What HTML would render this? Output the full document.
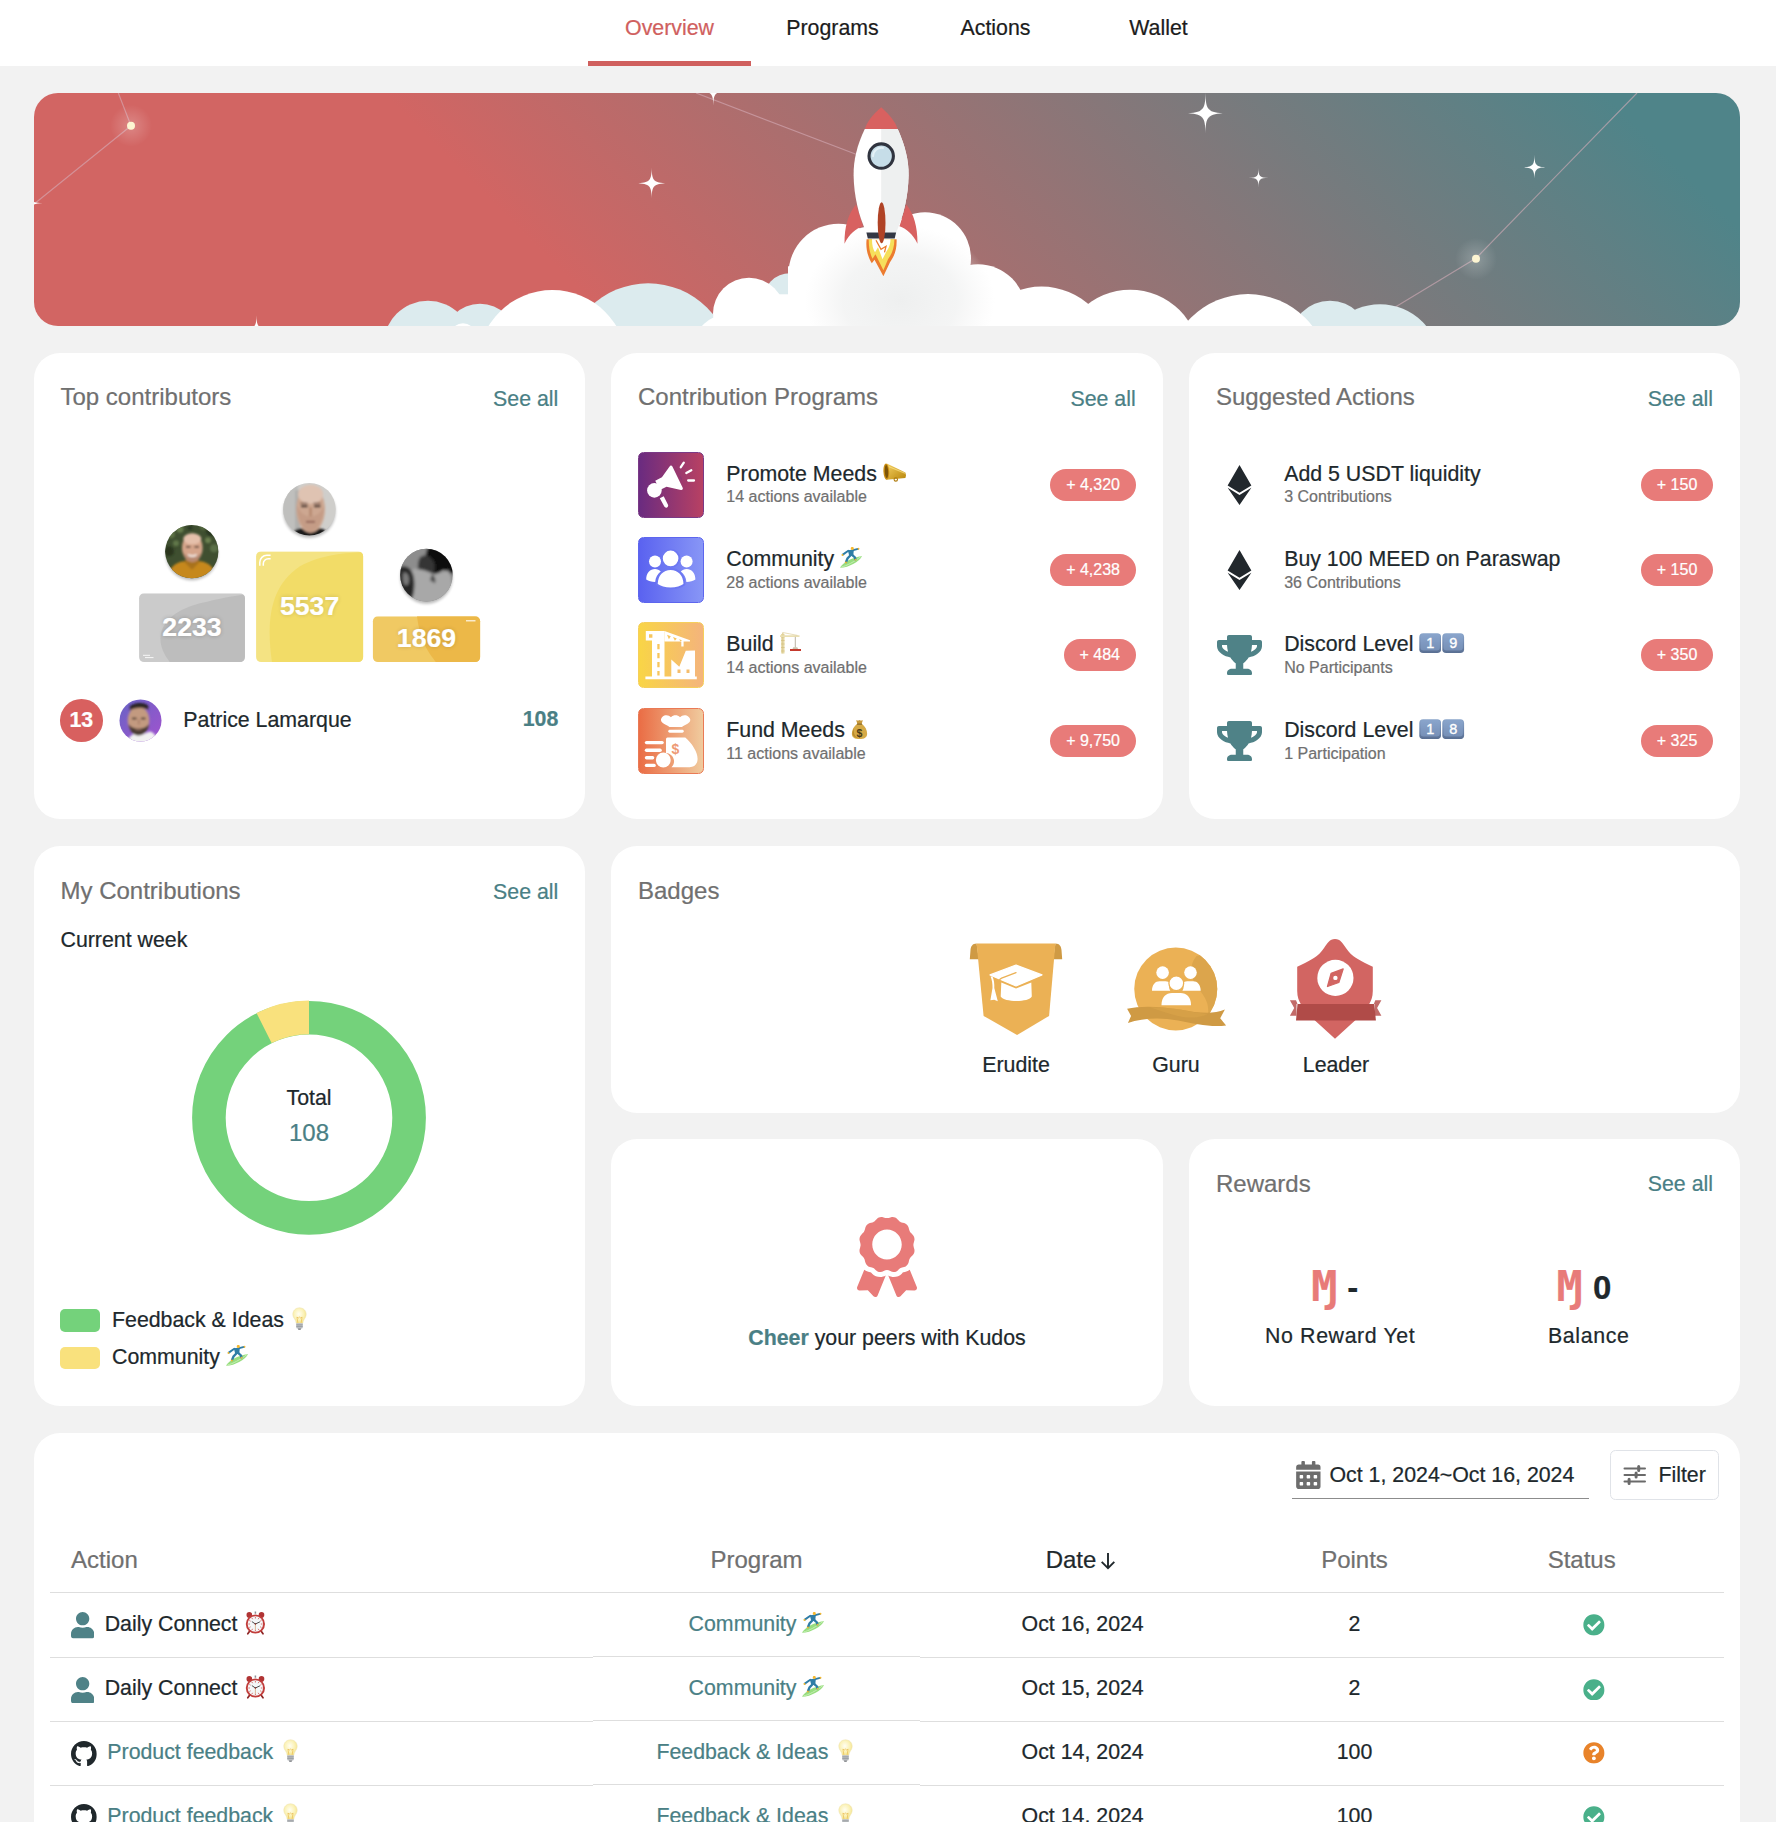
<!DOCTYPE html>
<html lang="en">
<head>
<meta charset="utf-8">
<title>Overview</title>
<style>
*{box-sizing:border-box;margin:0;padding:0}
html,body{width:1776px;height:1822px;overflow:hidden;background:#f2f2f2}
body{position:relative;-webkit-text-stroke:.22px;font-family:"Liberation Sans",Arial,Helvetica,sans-serif;font-size:21.33px;color:#20282c;line-height:1}
.abs{position:absolute}
#nav{position:absolute;left:0;top:0;width:1776px;height:66px;background:#fff}
.tab{position:absolute;top:0;height:66px;width:163px;text-align:center;font-size:21.33px;line-height:24px;padding-top:15.5px;color:#1c1c1c}
.tab.on{color:#d0605e}
.tab.on:after{content:"";position:absolute;left:0;right:0;bottom:0;height:5.33px;background:#d0605e}
#banner{position:absolute;left:34px;top:92.7px;width:1706px;height:233.3px;border-radius:24px;overflow:hidden;background:linear-gradient(45deg,#d26563 0%,#d26563 30%,#4f8489 93%)}
.card{position:absolute;background:#fff;border-radius:26px}
.ttl{position:absolute;font-size:24px;line-height:28px;color:#707070;white-space:nowrap}
.see{position:absolute;font-size:21.33px;line-height:24px;color:#4a7f85;white-space:nowrap;text-align:right}
.t{position:absolute;white-space:nowrap;line-height:24px}
.sub{position:absolute;white-space:nowrap;font-size:16px;line-height:18px;color:#707070}
.pill{position:absolute;height:32px;border-radius:16px;background:#e87b79;color:#fff;font-size:16px;line-height:31px;text-align:center;white-space:nowrap}
.teal{color:#4a7f85}
.b{font-weight:bold}
.em{display:inline-block;position:relative;height:0;vertical-align:baseline}.em>svg{position:absolute;left:0}
</style>
</head>
<body>
<svg width="0" height="0" style="position:absolute">
<defs>
<linearGradient id="kc" x1="0" y1="0" x2="0" y2="1"><stop offset="0" stop-color="#8ba6cb"/><stop offset=".5" stop-color="#7089b0"/><stop offset="1" stop-color="#596f92"/></linearGradient>
<linearGradient id="mg" x1="0" y1="0" x2="1" y2="1"><stop offset="0" stop-color="#f5d061"/><stop offset="1" stop-color="#b8860b"/></linearGradient>
<radialGradient id="bulbg" cx=".45" cy=".4" r=".6"><stop offset="0" stop-color="#fffef2"/><stop offset=".6" stop-color="#fbf2b8"/><stop offset="1" stop-color="#f4e38c"/></radialGradient>
</defs>
<!-- emoji: megaphone -->
<symbol id="e-mega" viewBox="0 0 23 19">
<path d="M3.800 .400L22.300 9.400c.800 1.800.800 3.800 0 5.500L3.500 16.800z" fill="url(#mg)"/>
<path d="M5.500 3.500L22 10.200" stroke="#fbe38a" stroke-width="1.100" opacity=".7"/>
<ellipse cx="3.300" cy="8.600" rx="2.900" ry="8.200" transform="rotate(-3 3.300 8.600)" fill="#c98d13"/><ellipse cx="3.500" cy="8.600" rx="1.700" ry="6.500" transform="rotate(-3 3.500 8.600)" fill="#7d5407"/>
<circle cx="12.800" cy="16.400" r="1.700" fill="none" stroke="#b07d10" stroke-width="1.100"/>
</symbol>
<!-- emoji: surfer -->
<symbol id="e-surf" viewBox="0 0 22 21.500">
<path d="M0 20.800C2 16 12 10 22 8.900C20 14 9 20.500 0 20.800z" fill="#97dd7f"/><path d="M1.500 20c5-1 13-5.500 19.500-10.500" stroke="#c9f0b8" stroke-width=".9" fill="none"/>
<g stroke="#2f7da6" stroke-linecap="round" fill="none"><path d="M8.300 3.800L2.800 7.600" stroke-width="1.900"/><path d="M13.300 3.200L18 1.900" stroke-width="1.900"/><path d="M10.300 8.500L7.500 11.500L6 15" stroke-width="2.300"/><path d="M12.600 8.300L15 10.500L15.300 12.300" stroke-width="2.300"/></g>
<path d="M7.800 3.200L13.800 2.500L13.300 8.800L9.300 9.200z" fill="#2f7da6"/>
<circle cx="12.300" cy="1.400" r="1.500" fill="#f5b82e"/><circle cx="2.500" cy="7.900" r="1" fill="#f5b82e"/><circle cx="18.500" cy="1.700" r=".95" fill="#f5b82e"/><circle cx="5.900" cy="15.600" r="1" fill="#f5b82e"/><circle cx="15.500" cy="12.700" r=".9" fill="#f5b82e"/>
</symbol>
<!-- emoji: crane -->
<symbol id="e-crane" viewBox="2.500 0 21.500 22">
<path d="M3.500 2h3.600v19.500H3.500z" fill="#eadfb2"/><path d="M3.500 5h3.600M3.500 8.500h3.600M3.500 12h3.600M3.500 15.500h3.600M3.500 19h3.600M5.300 2v19.500" stroke="#d2bf7e" stroke-width=".7"/>
<path d="M2.500 3.300h19.500v1.600H2.500z" fill="#eadfb2"/><path d="M5.300 0l1.500 3.300H3.800z" fill="#e2d29a"/><path d="M5.300 .5L20 3.400" stroke="#d8c88e" stroke-width=".6"/>
<path d="M17.800 4.900v10.600" stroke="#a8a08a" stroke-width=".8"/><path d="M15.800 15.300h4l.8 1.700h-5.600z" fill="#c9c2ad"/><path d="M12.500 17h11v2h-11z" fill="#c4392d"/>
</symbol>
<!-- emoji: money bag -->
<symbol id="e-bag" viewBox="0 0 20 24">
<path d="M6 1c1.300.800 2.500.800 4 0 1.500.800 2.700.800 4 0l-1.600 5H7.600z" fill="#c89a3c"/>
<path d="M7.300 5.600h5.400c4 3 6.300 7.500 6.300 11.600 0 4.300-3.400 6.300-9 6.300s-9-2-9-6.300c0-4.100 2.300-8.600 6.300-11.600z" fill="#d5a945"/>
<path d="M3.500 11c-1.500 2.500-2 5-1.500 7.500 1 2.500 3.500 3.500 6 3.800-3-1.500-5.500-5-4.500-11.300z" fill="#b98a2b"/>
<path d="M7 5.300h6v1.500H7z" fill="#8a6a2a"/>
<text x="10" y="20.800" font-family="Liberation Sans,Arial,sans-serif" font-weight="bold" font-size="12.500" text-anchor="middle" fill="#4a3a14">$</text>
</symbol>
<!-- emoji: bulb -->
<symbol id="e-bulb" viewBox="0 0 16 24">
<path d="M8 .8c4 0 7 3 7 6.800 0 2.700-1.500 4.200-2.500 6-.600 1.100-.800 2-.900 3.400H4.400c-.100-1.400-.300-2.300-.900-3.400-1-1.800-2.500-3.300-2.500-6C1 3.800 4 .8 8 .8z" fill="url(#bulbg)" stroke="#ece2b0" stroke-width=".5"/>
<path d="M6.300 16.500l-1-6 1.400 1 1.300-1 1.300 1 1.400-1-1 6" fill="none" stroke="#e8b84a" stroke-width=".7"/>
<path d="M4.600 17h6.800v4.200c0 .800-.600 1.300-1.300 1.300H5.900c-.700 0-1.300-.500-1.300-1.300z" fill="#b9bcc0"/><path d="M4.600 18.600h6.800M4.600 20.300h6.800" stroke="#8f9398" stroke-width=".7"/><path d="M6.300 22.500h3.400l-.500 1.200H6.800z" fill="#6d7075"/>
</symbol>
<!-- emoji: alarm clock -->
<symbol id="e-clock" viewBox="0 0 22 24">
<path d="M5 20.500l-1.600 2.300M17 20.500l1.600 2.300" stroke="#8e2626" stroke-width="1.700" stroke-linecap="round"/>
<circle cx="4.900" cy="3.900" r="2.800" fill="#b03434"/><circle cx="17.100" cy="3.900" r="2.800" fill="#b03434"/>
<path d="M11 .500v2.300" stroke="#8b8f94" stroke-width="1.500"/>
<circle cx="11" cy="13" r="9.600" fill="#c13d3b"/><circle cx="11" cy="13" r="7.700" fill="#f4f7f8"/>
<g stroke="#d0504c" stroke-width=".8"><path d="M11 6v1.500M11 18.500v1.500M4 13h1.500M16.500 13h1.500M7.500 7l.700 1.200M14.500 7l-.700 1.200M7.500 19l.700-1.200M14.500 19l-.700-1.200M5 9.500l1.200.700M17 9.500l-1.200.700M5 16.500l1.200-.700M17 16.500l-1.200-.700"/></g>
<path d="M11 13L7.800 10.800M11 13l4.200-2" stroke="#3a3a3a" stroke-width=".9" stroke-linecap="round"/><path d="M11 13v5.500" stroke="#d8b08a" stroke-width=".9"/><circle cx="11" cy="13" r=".8" fill="#8e2626"/>
</symbol>
<!-- emoji: keycap base -->
<symbol id="e-key" viewBox="0 0 22 22">
<rect x=".5" y=".5" width="21" height="21" rx="4" fill="url(#kc)"/><rect x="1.600" y="1.300" width="18.800" height="17.500" rx="3.200" fill="#7391bb" opacity=".55"/>
</symbol>
<!-- FA icons -->
<symbol id="i-eth" viewBox="0 0 320 512"><path d="M311.900 260.800L160 353.600 8 260.800 160 0l151.900 260.800zM160 383.400L8 290.600 160 512l152-221.400-152 92.800z"/></symbol>
<symbol id="i-trophy" viewBox="0 0 576 512"><path d="M552 64H448V24c0-13.300-10.700-24-24-24H152c-13.300 0-24 10.700-24 24v40H24C10.700 64 0 74.700 0 88v56c0 35.700 22.500 72.400 61.900 100.700 31.500 22.700 69.800 37.100 110 41.700C203.300 338.500 240 360 240 360v72h-48c-35.300 0-64 20.700-64 56v12c0 6.600 5.400 12 12 12h296c6.600 0 12-5.400 12-12v-12c0-35.300-28.700-56-64-56h-48v-72s36.700-21.500 68.100-73.600c40.300-4.600 78.600-19 110-41.700 39.300-28.300 61.900-65 61.900-100.700V88c0-13.300-10.700-24-24-24zM99.300 192.800C74.900 175.200 64 155.600 64 144v-16h64.200c1 32.600 5.800 61.200 12.800 86.200-15.100-5.200-29.200-12.400-41.700-21.400zM512 144c0 16.100-17.700 36.100-35.300 48.800-12.500 9-26.700 16.200-41.800 21.400 7-25 11.800-53.600 12.800-86.200H512v16z"/></symbol>
<symbol id="i-user" viewBox="0 0 448 512"><path d="M224 256c70.700 0 128-57.300 128-128S294.700 0 224 0 96 57.300 96 128s57.300 128 128 128zm89.600 32h-16.700c-22.200 10.200-46.900 16-72.900 16s-50.600-5.800-72.900-16h-16.700C60.200 288 0 348.200 0 422.400V464c0 26.500 21.500 48 48 48h352c26.500 0 48-21.500 48-48v-41.600c0-74.200-60.200-134.400-134.400-134.400z"/></symbol>
<symbol id="i-check" viewBox="0 0 512 512"><path d="M504 256c0 136.967-111.033 248-248 248S8 392.967 8 256 119.033 8 256 8s248 111.033 248 248zM227.314 387.314l184-184c6.248-6.248 6.248-16.379 0-22.627l-22.627-22.627c-6.248-6.249-16.379-6.249-22.628 0L216 308.118l-70.059-70.059c-6.248-6.248-16.379-6.248-22.628 0l-22.627 22.627c-6.248 6.248-6.248 16.379 0 22.627l104 104c6.249 6.249 16.379 6.249 22.628.001z"/></symbol>
<symbol id="i-quest" viewBox="0 0 512 512"><path d="M504 256c0 136.997-111.043 248-248 248S8 392.997 8 256C8 119.083 119.043 8 256 8s248 111.083 248 248zM262.655 90c-54.497 0-89.255 22.957-116.549 63.758-3.536 5.286-2.353 12.415 2.715 16.258l34.699 26.310c5.205 3.947 12.621 3.008 16.665-2.122 17.864-22.658 30.113-35.797 57.303-35.797 20.429 0 45.698 13.148 45.698 32.958 0 14.976-12.363 22.667-32.534 33.976C247.128 238.528 216 254.941 216 296v4c0 6.627 5.373 12 12 12h56c6.627 0 12-5.373 12-12v-1.333c0-28.462 83.186-29.647 83.186-106.667 0-58.002-60.165-102-116.531-102zM256 338c-25.365 0-46 20.635-46 46 0 25.364 20.635 46 46 46s46-20.636 46-46c0-25.365-20.635-46-46-46z"/></symbol>
<symbol id="i-cal" viewBox="0 0 448 512"><path d="M0 464c0 26.500 21.500 48 48 48h352c26.500 0 48-21.500 48-48V192H0v272zm320-196c0-6.600 5.400-12 12-12h40c6.600 0 12 5.400 12 12v40c0 6.600-5.400 12-12 12h-40c-6.600 0-12-5.400-12-12v-40zm0 128c0-6.600 5.400-12 12-12h40c6.600 0 12 5.400 12 12v40c0 6.600-5.400 12-12 12h-40c-6.600 0-12-5.400-12-12v-40zM192 268c0-6.600 5.400-12 12-12h40c6.600 0 12 5.400 12 12v40c0 6.600-5.400 12-12 12h-40c-6.600 0-12-5.400-12-12v-40zm0 128c0-6.600 5.400-12 12-12h40c6.600 0 12 5.400 12 12v40c0 6.600-5.400 12-12 12h-40c-6.600 0-12-5.400-12-12v-40zM64 268c0-6.600 5.400-12 12-12h40c6.600 0 12 5.400 12 12v40c0 6.600-5.400 12-12 12H76c-6.600 0-12-5.400-12-12v-40zm0 128c0-6.600 5.400-12 12-12h40c6.600 0 12 5.400 12 12v40c0 6.600-5.400 12-12 12H76c-6.600 0-12-5.400-12-12v-40zM400 64h-48V16c0-8.800-7.200-16-16-16h-32c-8.800 0-16 7.200-16 16v48H160V16c0-8.800-7.200-16-16-16h-32c-8.800 0-16 7.200-16 16v48H48C21.500 64 0 85.500 0 112v48h448v-48c0-26.500-21.500-48-48-48z"/></symbol>
<symbol id="i-gh" viewBox="0 -1408 1536 1500"><path transform="scale(1,-1)" d="M768 1408C344 1408 0 1064 0 640C0 301 220 13 525 -89C564 -96 578 -72 578 -52C578 -33 577 27 577 91C577 91 363 45 318 182C318 182 283 271 233 294C233 294 163 342 238 341C238 341 314 335 356 262C423 144 535 178 579 198C586 247 606 281 628 301C457 320 278 386 278 680C278 764 308 832 357 886C349 906 323 984 365 1090C429 1110 576 1011 576 1011C637 1028 703 1037 768 1037C833 1037 899 1028 960 1011C960 1011 1107 1110 1171 1090C1213 984 1187 906 1179 886C1228 832 1258 764 1258 680C1258 385 1078 320 907 301C935 277 959 231 959 159C959 56 958 -27 958 -52C958 -72 972 -96 1011 -89C1316 13 1536 301 1536 640C1536 1064 1192 1408 768 1408ZM291 305C289 301 283 300 278 303C272 306 269 311 271 315C273 318 278 319 284 317C290 314 293 309 291 305ZM322 271C318 267 311 269 306 274C301 280 300 287 304 290C308 294 315 292 320 287C325 281 326 274 322 271ZM352 226C348 223 340 226 335 233C330 240 330 248 335 251C340 255 348 252 352 245C357 238 357 230 352 226ZM394 184C390 179 381 180 374 187C367 193 365 202 370 206C374 211 383 210 390 203C396 197 398 188 394 184ZM451 159C449 153 440 150 432 153C423 155 417 162 419 168C421 174 430 177 438 175C447 172 453 165 451 159ZM514 154C514 148 507 143 498 143C488 142 481 147 481 154C481 160 488 165 497 165C506 166 514 161 514 154ZM572 164C573 158 567 152 558 150C549 148 541 152 540 158C539 165 545 171 554 173C563 174 571 170 572 164Z"/></symbol>
</svg>
<!-- NAV -->
<div id="nav">
  <div class="tab on" style="left:588px">Overview</div>
  <div class="tab" style="left:751px">Programs</div>
  <div class="tab" style="left:914px">Actions</div>
  <div class="tab" style="left:1077px">Wallet</div>
</div>

<!-- BANNER -->
<div id="banner"><svg width="1706" height="233.3" viewBox="34 92.7 1706 233.3" style="position:absolute;left:0;top:0">
<defs>
<radialGradient id="glow"><stop offset="0" stop-color="#fff" stop-opacity=".22"/><stop offset=".55" stop-color="#fff" stop-opacity=".1"/><stop offset="1" stop-color="#fff" stop-opacity="0"/></radialGradient>
<radialGradient id="sglow"><stop offset="0" stop-color="#fff" stop-opacity=".9"/><stop offset="1" stop-color="#fff" stop-opacity="0"/></radialGradient>
<radialGradient id="cshade" cx=".5" cy=".5" r=".5"><stop offset="0" stop-color="#eeefef"/><stop offset=".6" stop-color="#f1f2f2" stop-opacity=".8"/><stop offset="1" stop-color="#f4f4f4" stop-opacity="0"/></radialGradient>
<path id="star" d="M0-16C.25-2.600 1.400-.350 16 0C1.400 .350 .25 2.600 0 16C-.25 2.600-1.400 .350-16 0C-1.400-.350-.25-2.600 0-16Z"/>
</defs>
<!-- constellation lines -->
<g stroke="#d6adb9" stroke-width="1.200" fill="none" opacity=".6">
<path d="M118.3 92.7L131 125.4L35 203"/>
<path d="M696 92.7L856 154"/>
<path d="M1637 92.7L1476 258L1390 310"/>
</g>
<!-- glow dots -->
<circle cx="131" cy="125.4" r="21" fill="url(#glow)"/><circle cx="131" cy="125.4" r="4" fill="#fdf5d2"/>
<circle cx="1476" cy="258.5" r="21" fill="url(#glow)"/><circle cx="1476" cy="258.5" r="4" fill="#fdf5d2"/>
<!-- stars -->
<g fill="#fff">
<use href="#star" transform="translate(651.7 183)"/><circle cx="651.7" cy="183" r="5" fill="url(#sglow)"/>
<use href="#star" transform="translate(1205.5 113) scale(1.3)"/><circle cx="1205.5" cy="113" r="6.5" fill="url(#sglow)"/>
<use href="#star" transform="translate(1258.5 177.5) scale(.62)"/><circle cx="1258.5" cy="177.5" r="3" fill="url(#sglow)"/>
<use href="#star" transform="translate(1534.5 167) scale(.8)"/><circle cx="1534.5" cy="167" r="4" fill="url(#sglow)"/>
<use href="#star" transform="translate(713.3 91) scale(.92)"/>
<use href="#star" transform="translate(256.5 328.5) scale(.85)"/>
<use href="#star" transform="translate(30 203) scale(.8)"/>
</g>
<!-- light blue clouds -->
<g fill="#dcebee">
<circle cx="428" cy="345" r="44.5"/><circle cx="480" cy="340" r="36.5"/>
<circle cx="648.2" cy="366" r="83"/>
<circle cx="790" cy="300" r="27"/>
<circle cx="1330" cy="340.5" r="40"/><circle cx="1380" cy="364" r="60"/>
</g>
<!-- white clouds -->
<g fill="#fff">
<circle cx="552.4" cy="364.4" r="74.7"/>
<circle cx="463" cy="336" r="13"/>
<circle cx="725" cy="345" r="30"/>
<circle cx="749" cy="313.5" r="36"/><rect x="755" y="294" width="45" height="34"/>
<circle cx="838.5" cy="273.5" r="50"/>
<circle cx="925" cy="258" r="46"/>
<rect x="788" y="266" width="182" height="66"/>
<ellipse cx="881" cy="270" rx="60" ry="45"/>
<circle cx="978" cy="312" r="48"/>
<circle cx="1041.5" cy="357.5" r="71.2"/>
<circle cx="1130.2" cy="359.1" r="69.7"/>
<circle cx="1248" cy="374.6" r="80.8"/>
</g>
<ellipse cx="900" cy="300" rx="95" ry="75" fill="url(#cshade)"/>
<!-- rocket -->
<g>
<path d="M856 204.3C848 214 844.5 226 844.5 243.4C849 234 856 228 863 226Z" fill="#d86160"/>
<path d="M906.3 204.3C914 214 917.5 226 917.5 243.4C913 234 906 228 899.5 226Z" fill="#d86160"/>
<path d="M881.2 107C872 115 867 122 864.8 128.7L897.7 128.7C895.5 122 890 115 881.2 107Z" fill="#d86160"/>
<path d="M864.8 128.7C857 145 853.4 160 853.6 175C854 196 858.5 215 866.4 232.4L896.1 232.4C903.7 215 908.2 196 908.6 175C908.8 160 905 145 897.7 128.7Z" fill="#fff"/>
<path d="M897.7 128.7C905 145 908.8 160 908.6 175C908.2 196 903.7 215 896.1 232.4L881.2 232.4L881.2 128.7Z" fill="#eef0f0"/>
<circle cx="881.2" cy="155.8" r="12.2" fill="#c6dde8" stroke="#30343f" stroke-width="3.1"/>
<path d="M873 156A8.5 8.5 0 0 1 883 147.6" stroke="#e3f0f6" stroke-width="2" fill="none" stroke-linecap="round"/>
<!-- flames -->
<path d="M866.6 239C865.5 248 868 257 871.8 263L874.5 259.5L883.4 276L890 262C894 256 897 250 896.6 239Z" fill="#ec7c2f"/>
<path d="M868.8 239C868.5 247 870 253 872.5 258.5L875.5 254L883.4 270L888 259C891.5 254 894.5 248 894.4 239Z" fill="#f6df5b"/>
<path d="M872 239C872 245 873 249 875 252L878 247L882.5 259L886 252C888 249 890.5 245 890.5 239Z" fill="#fff"/>
<path d="M876 240L881 249L886 246L884.5 252" stroke="#ec7c2f" stroke-width="1.3" fill="none"/>
<path d="M866.4 232.2H896.1L894.7 238.2H867.8Z" fill="#343844"/>
<ellipse cx="881.6" cy="222.5" rx="3.9" ry="20.5" fill="#b04326"/>
</g>
</svg>
</div>

<!-- ROW 1 -->
<div class="card" id="c-top" style="left:34px;top:352.7px;width:551.3px;height:466.3px">
  <div class="ttl" style="left:26.5px;top:30.5px">Top contributors</div>
  <div class="see" style="right:27px;top:34px">See all</div>
  <!--TOP_START--><svg class="abs" style="left:95px;top:110px" width="370" height="210" viewBox="129 462.7 370 210">
<defs>
<clipPath id="cg"><rect x="139.1" y="593" width="105.8" height="68.8" rx="5"/></clipPath>
<clipPath id="cy"><rect x="256.1" y="551.1" width="107" height="110.7" rx="5"/></clipPath>
<clipPath id="co"><rect x="372.9" y="616" width="107.2" height="45.8" rx="5"/></clipPath>
<clipPath id="a1"><circle cx="309.4" cy="508.9" r="26.3"/></clipPath>
<clipPath id="a2"><circle cx="191.8" cy="551.3" r="26.6"/></clipPath>
<clipPath id="a3"><circle cx="426.4" cy="574.8" r="26.3"/></clipPath>
<filter id="bl" x="-20%" y="-20%" width="140%" height="140%"><feGaussianBlur stdDeviation="1.1"/></filter>
<filter id="bl2" x="-20%" y="-20%" width="140%" height="140%"><feGaussianBlur stdDeviation="1.6"/></filter>
<filter id="sh" x="-30%" y="-30%" width="160%" height="160%"><feGaussianBlur stdDeviation="1.6"/></filter>
</defs>
<!-- podium blocks -->
<g clip-path="url(#cg)"><rect x="139" y="593" width="106" height="69" fill="#cbcbcb"/>
<path d="M170 662C152 640 158 614 200 603C220 598 236 595 246 594V662Z" fill="#bdbdbd"/>
<path d="M143 655h7M145 657.3h8.5" stroke="#fff" stroke-width="1" opacity=".85"/></g>
<g clip-path="url(#cy)"><rect x="256" y="551" width="108" height="111" fill="#f4e383"/>
<path d="M272 662C266 620 270 586 300 566C322 554 346 552.5 364 552V662Z" fill="#f2dc67"/>
<path d="M259.8 565.5v-3.5a7 7 0 0 1 7-7h3.8M263.3 565.5v-2a5 5 0 0 1 5-5h2.3" stroke="#fff" stroke-width="1.5" fill="none"/></g>
<g clip-path="url(#co)"><rect x="372" y="616" width="109" height="46" fill="#f0c963"/>
<path d="M417 616C420 640 428 652 436 662H481V616Z" fill="#ecb848"/>
<path d="M466 620.5h9.5" stroke="#fff" stroke-width="1.2" opacity=".9"/></g>
<!-- avatar shadows -->
<ellipse cx="309.4" cy="511.5" rx="26" ry="26" fill="#000" opacity=".28" filter="url(#sh)"/>
<ellipse cx="191.8" cy="554" rx="26" ry="26" fill="#000" opacity=".28" filter="url(#sh)"/>
<ellipse cx="426.4" cy="577.4" rx="26" ry="26" fill="#000" opacity=".28" filter="url(#sh)"/>
<!-- avatar 1 -->
<g clip-path="url(#a1)"><rect x="282" y="481" width="56" height="57" fill="#cfcecb"/>
<g filter="url(#bl)"><path d="M282 481h16v57h-16z" fill="#bfbfbd"/><path d="M295 490h5v40h-5z" fill="#b0b0ae"/>
<path d="M290 538c2-7 6-9.500 11-10l9 2 9-2c5 .5 9 3 11 10z" fill="#1b1b1d"/>
<ellipse cx="310.600" cy="509" rx="14.300" ry="23.500" fill="#cda791"/><ellipse cx="310.600" cy="494" rx="12.500" ry="9.500" fill="#dfc3b2"/>
<path d="M297 505c0 12 5 24 13.600 27.500 8.600-3.500 13.600-15.500 13.600-27.500-3 8-8 11-13.600 11s-10.600-3-13.600-11z" fill="#c59c86"/>
<path d="M301 505.800h6.500M314 505.800h6.500" stroke="#3f2f29" stroke-width="2.400"/><path d="M300.500 503h7M313.500 503h7" stroke="#6b5046" stroke-width="1.200"/>
<path d="M310.600 507v9" stroke="#b5886f" stroke-width="2.500"/><path d="M306 521.500h9" stroke="#8e5f55" stroke-width="1.800"/></g></g>
<!-- avatar 2 -->
<g clip-path="url(#a2)"><rect x="164" y="523" width="56" height="57" fill="#3f4f30"/>
<g filter="url(#bl)"><circle cx="171" cy="534" r="4" fill="#5d7245"/><circle cx="211" cy="531" r="5" fill="#2a3722"/><circle cx="214" cy="548" r="4" fill="#5a6f47"/><circle cx="169" cy="551" r="5" fill="#29361f"/><circle cx="180" cy="529" r="3.500" fill="#687e4e"/><circle cx="203" cy="527" r="3" fill="#51663c"/><circle cx="176" cy="543" r="3" fill="#61774a"/><circle cx="208" cy="540" r="3" fill="#6a8050"/><circle cx="190" cy="527.500" r="2.500" fill="#2c3a23"/>
<path d="M167 580c1-12 8-18 17-19l8 4 8-4c9 1 16 7 17 19z" fill="#c6881d"/><path d="M184 561.500l8 8 8-8-2-2.500h-12z" fill="#a9721a"/>
<ellipse cx="192.300" cy="547.500" rx="10.300" ry="14" fill="#d6a58b"/><ellipse cx="192.300" cy="538.500" rx="9" ry="5.500" fill="#e5c0ab"/>
<path d="M183 552c1 6 4.500 9.500 9.300 9.500s8.300-3.500 9.300-9.500c-2.500 3-5.500 4-9.300 4s-6.800-1-9.300-4z" fill="#b98a72"/>
<path d="M186 546.500h4.500M194.500 546.500h4.500" stroke="#3b2a22" stroke-width="1.600"/><path d="M188 554.500q4.300 2.800 8.600 0" stroke="#f4ece6" stroke-width="1.700" fill="none"/></g></g>
<!-- avatar 3 -->
<g clip-path="url(#a3)"><rect x="399" y="547" width="56" height="56" fill="#868686"/>
<g filter="url(#bl2)"><path d="M399 547h30v22h-30z" fill="#8d8d8d"/>
<path d="M428 547h27v26c-5 1-9-1-12-4l-6 6c-6-2-10-8-11-14s0-10 2-14z" fill="#0e0e0e"/>
<path d="M420 557c4-3 9-2 12 2s4 10 1 15-8 5-12 2-4-14-1-19z" fill="#353535"/>
<path d="M410 570c6-3 16 0 24 4l14-4c4 6 6 16 4 33h-42z" fill="#a8a8a8"/>
<path d="M399 567c4-2 9-1 12 3s4 12 3 20-3 10-6 13h-9z" fill="#262626"/><path d="M404 572c3 0 5 3 5 7s-1 6-3 6-3-3-3-6 0-7 1-7z" fill="#7a7a7a"/>
<path d="M432 574c3 2 4 6 3 9l-5-3z" fill="#4a4a4a"/></g></g>
</svg>
<div class="abs b" style="left:105.1px;top:240.3px;width:105.8px;height:68.8px;line-height:68.8px;text-align:center;color:#fff;font-size:26.67px;text-shadow:0 0 4px rgba(0,0,0,.22)">2233</div>
<div class="abs b" style="left:222.1px;top:198.4px;width:107px;height:110.7px;line-height:110.7px;text-align:center;color:#fff;font-size:26.67px;text-shadow:0 0 4px rgba(0,0,0,.16)">5537</div>
<div class="abs b" style="left:338.9px;top:263.3px;width:107.2px;height:45.8px;line-height:45.8px;text-align:center;color:#fff;font-size:26.67px;text-shadow:0 0 4px rgba(0,0,0,.16)">1869</div>
<div class="abs" style="left:26px;top:346.5px;width:42.7px;height:42.7px;border-radius:50%;background:#d8605f;color:#fff;text-align:center;line-height:42.7px;font-size:21.33px;font-weight:bold">13</div>
<svg class="abs" style="left:84px;top:345.5px" width="45" height="45" viewBox="0 0 45 45">
<defs><linearGradient id="pg" x1="0" y1="0" x2="1" y2="1"><stop offset="0" stop-color="#6664c4"/><stop offset="1" stop-color="#a452cf"/></linearGradient><clipPath id="a4"><circle cx="22.5" cy="22.5" r="21"/></clipPath>
<filter id="bl3" x="-20%" y="-20%" width="140%" height="140%"><feGaussianBlur stdDeviation=".9"/></filter></defs>
<g clip-path="url(#a4)"><rect width="45" height="45" fill="url(#pg)"/>
<g filter="url(#bl3)"><path d="M9 45c1-6 5-9 9-9.500l6 1 8-3c4 1 7 5 8 11.500z" fill="#f1f1f1"/><ellipse cx="20.500" cy="22.500" rx="10.800" ry="14" fill="#c39a80"/><path d="M11 13c2-5 6-7.500 10.500-7.500s8 2 9.500 6.500c-3-1.500-6-2-10-2s-7 1-10 3z" fill="#3a302c"/><path d="M12 9.500c3-2.500 6-3.500 9.500-3.500s6.500 1 8.500 3" stroke="#1f1b1a" stroke-width="2" fill="none"/><path d="M10.500 26c1 7 5 11.500 10 11.500s9.500-4 10.500-11.500c-2.500 3-5.500 4.500-10.500 4.500s-7.500-1.500-10-4.500z" fill="#4c3c34"/><path d="M17.500 31.500h6" stroke="#8f6a5c" stroke-width="1.300"/><path d="M14 20.500h4.500M23 20.500h4.500" stroke="#2a1c17" stroke-width="1.700"/><path d="M20.800 21.500v5" stroke="#a97f69" stroke-width="1.600"/></g></g>
</svg>
<div class="t" style="left:149.3px;top:355px">Patrice Lamarque</div>
<div class="t b teal" style="right:27px;top:354.5px">108</div>
<!--TOP_END-->

</div>
<div class="card" id="c-prog" style="left:611.3px;top:352.7px;width:551.4px;height:466.3px">
  <div class="ttl" style="left:26.7px;top:30.5px">Contribution Programs</div>
  <div class="see" style="right:27px;top:34px">See all</div>
  <!--PROG_START--><div class="abs" style="left:26.8px;top:99.4px;width:65.8px;height:65.9px;border-radius:5.5px;background:linear-gradient(90deg,#6a2b80,#b84163);border:1px solid #7a3a86;overflow:hidden"><svg width="65.800" height="65.900" viewBox="0 0 65.800 65.900" style="position:absolute;left:-1px;top:-1px"><g fill="#fff"><path d="M31.600 14.500c.700-1.300 2.300-1.100 2.800.100l10.300 21.200c.600 1.300-.400 2.500-1.700 2.200l-14.500-3.300-6.500 3.400-4.800-9.300 6.700-3.500z"/><circle cx="16.400" cy="38.400" r="7.300"/><path d="M21.800 46.200l3.900-2 4.300 8.600c.500 1-.0 2.200-1 2.700s-2.200.100-2.700-.900z"/></g><path d="M40 24.200a3.300 3.300 0 0 1 3 5.800" fill="none" stroke="#fff" stroke-width="0"/><g stroke="#fff" stroke-width="2.300" stroke-linecap="round"><path d="M42.800 15.200l3-4.600M48.300 21l5-2.800M50.200 28.500h5.800"/></g><path d="M41.200 24.200c1.800-.500 3.300 1.700 2.600 4.500z" fill="#8d3773"/></svg></div>
<div class="t" style="left:115px;top:109.7px">Promote Meeds <span class="em" style="width:23px"><svg width="23" height="19" style="bottom:-0.2999999999999998px"><use href="#e-mega"/></svg></span></div>
<div class="sub" style="left:115px;top:135.6px">14 actions available</div>
<div class="pill" style="right:26.7px;top:116.4px;padding:0 16px">+ 4,320</div>
<div class="abs" style="left:26.8px;top:184.7px;width:65.8px;height:65.9px;border-radius:5.5px;background:linear-gradient(90deg,#5a62f0,#8896f6);border:1px solid #5d66ee;overflow:hidden"><svg width="65.800" height="65.900" viewBox="0 0 65.800 65.900" style="position:absolute;left:-1px;top:-1px"><g fill="#fff"><circle cx="17" cy="24.600" r="6"/><circle cx="48.600" cy="24.600" r="6"/><path d="M8.200 42.500c0-6.500 4-10.500 8.800-10.500 2.300 0 4.300.9 5.800 2.400-3.200 2.300-5.300 6-5.600 10.600-3.600-.2-6.800-1-9-2.500z"/><path d="M57.400 42.500c0-6.500-4-10.500-8.800-10.500-2.300 0-4.300.9-5.800 2.400 3.200 2.300 5.300 6 5.600 10.600 3.600-.2 6.800-1 9-2.500z"/></g><g fill="#fff" stroke="#6c77f2" stroke-width="1.800"><circle cx="32.600" cy="21.400" r="8.700"/><path d="M18.800 47.500c0-9.500 6-15.500 13.800-15.500s13.800 6 13.800 15.500c-3.500 2.600-8.300 3.800-13.800 3.800s-10.300-1.200-13.800-3.800z"/></g></svg></div>
<div class="t" style="left:115px;top:194.2px">Community <span class="em" style="width:22px"><svg width="22" height="21.5" style="bottom:-2.4px"><use href="#e-surf"/></svg></span></div>
<div class="sub" style="left:115px;top:220.9px">28 actions available</div>
<div class="pill" style="right:26.7px;top:201.7px;padding:0 16px">+ 4,238</div>
<div class="abs" style="left:26.8px;top:269.5px;width:65.8px;height:65.9px;border-radius:5.5px;background:linear-gradient(90deg,#f9d546,#f4b47c);border:1px solid #f6cf5a;overflow:hidden"><svg width="65.800" height="65.900" viewBox="0 0 65.800 65.900" style="position:absolute;left:-1px;top:-1px"><g fill="#fff"><path d="M7.400 54.600h51.400v2.600H7.400z"/><path d="M7.800 9h18.800v9.500H7.800z"/><path d="M14 18h12.500v37H14z"/><path d="M26.500 9l25.500 9.300v1.200H26.500z"/><path d="M43.300 19h2.300v5.500h-2.300z"/><path d="M33.300 37.500l8 7.200 6.500-16 9.200-.2v26.500H33.300z"/></g><g fill="#f7c65e"><path d="M11 12.300h3.400v3.400H11z"/><path d="M19.300 22h2.300v5.300h-2.300zM19.300 31h2.300v5.300h-2.300zM19.300 40h2.300v5.300h-2.300zM19.300 49h2.300v4.500h-2.300z"/><path d="M29 12.800l3.800 1.400-1.900 3zM35 15l3.800 1.400-1.900 2.400zM41 17.200l3 1.100-1.500 1z"/></g><g fill="#f5bd6c"><path d="M39.500 47.500h3v3.600h-3zM48.500 47.500h3v3.600h-3z"/></g></svg></div>
<div class="t" style="left:115px;top:279.5px">Build <span class="em" style="width:21.5px"><svg width="21.5" height="22" style="bottom:-3px"><use href="#e-crane"/></svg></span></div>
<div class="sub" style="left:115px;top:306.5px">14 actions available</div>
<div class="pill" style="right:26.7px;top:286.5px;padding:0 16px">+ 484</div>
<div class="abs" style="left:26.8px;top:355.2px;width:65.8px;height:65.9px;border-radius:5.5px;background:linear-gradient(90deg,#ea6d45,#f0cb9e);border:1px solid #ea7a55;overflow:hidden"><svg width="65.800" height="65.900" viewBox="0 0 65.800 65.900" style="position:absolute;left:-1px;top:-1px"><g fill="#fff"><path d="M24.5 8.700c3-2.500 6.500-1.500 8.500.500 2.500-2.500 6.500-2.500 9 0 2-2 5.500-3 8.500-.500 3 2.500 2 5.300-1 7-2.500 1.400-4.500 2-5.500 3.300H31.400c-1-1.300-3-1.900-5.500-3.300-3-1.700-4-4.500-1.400-7z"/><rect x="30.300" y="21.800" width="15.400" height="2.900" rx="1.400"/><path d="M29.500 29.500h17.800c6.500 5.500 12.300 14.500 12.300 21.200 0 5.600-3.600 8.500-8 8.500H33.500c2.300-2.300 3-5 2.300-7.800-1-3.700-4-6-7.800-6.300V31.500c0-1.100.6-2 1.500-2z"/><rect x="6.800" y="32.900" width="19" height="3.400" rx="1.700"/><rect x="6.800" y="40.500" width="17" height="3.400" rx="1.700"/><rect x="6.800" y="48.100" width="9.500" height="3.400" rx="1.700"/><rect x="6.800" y="55.700" width="11" height="3.400" rx="1.700"/><circle cx="25.300" cy="52" r="7.400"/></g><text x="37.300" y="46.300" font-family="Liberation Sans,Arial,sans-serif" font-weight="bold" font-size="14" text-anchor="middle" fill="#ee9a74">$</text></svg></div>
<div class="t" style="left:115px;top:365.2px">Fund Meeds <span class="em" style="width:17px"><svg width="17" height="20.5" style="bottom:-3px"><use href="#e-bag"/></svg></span></div>
<div class="sub" style="left:115px;top:392.2px">11 actions available</div>
<div class="pill" style="right:26.7px;top:372.2px;padding:0 16px">+ 9,750</div><!--PROG_END-->
</div>
<div class="card" id="c-sug" style="left:1188.7px;top:352.7px;width:551.3px;height:466.3px">
  <div class="ttl" style="left:27.3px;top:30.5px">Suggested Actions</div>
  <div class="see" style="right:27px;top:34px">See all</div>
  <!--SUG_START--><svg class="abs" style="left:38.300px;top:112.3px;fill:#22282d" width="25" height="40"><use href="#i-eth"/></svg>
<div class="t" style="left:95.5px;top:109.7px">Add 5 USDT liquidity</div>
<div class="sub" style="left:95.5px;top:135.6px">3 Contributions</div>
<div class="pill" style="right:26.7px;top:116.4px;padding:0 16px">+ 150</div>
<svg class="abs" style="left:38.300px;top:197.6px;fill:#22282d" width="25" height="40"><use href="#i-eth"/></svg>
<div class="t" style="left:95.5px;top:194.2px">Buy 100 MEED on Paraswap</div>
<div class="sub" style="left:95.5px;top:220.9px">36 Contributions</div>
<div class="pill" style="right:26.7px;top:201.7px;padding:0 16px">+ 150</div>
<svg class="abs" style="left:28.400px;top:282.4px;fill:#4f8287" width="45" height="40"><use href="#i-trophy"/></svg>
<div class="t" style="left:95.5px;top:279.5px">Discord Level<span class="em" style="width:22.4px;margin-left:5.3px"><svg width="22.4" height="20.4" viewBox="0 0 22.4 20.4" style="bottom:-2.6px"><rect x=".3" y=".3" width="21.800" height="19.800" rx="3.800" fill="url(#kc)"/><rect x="1.500" y="1" width="19.400" height="16.500" rx="3" fill="#8aa6cd" opacity=".55"/><text x="11.200" y="14.600" font-family="Liberation Sans,Arial,sans-serif" font-size="14.500" text-anchor="middle" fill="#fff" stroke="#fff" stroke-width=".35">1</text></svg></span><span class="em" style="width:22.4px;margin-left:1.3px"><svg width="22.4" height="20.4" viewBox="0 0 22.4 20.4" style="bottom:-2.6px"><rect x=".3" y=".3" width="21.800" height="19.800" rx="3.800" fill="url(#kc)"/><rect x="1.500" y="1" width="19.400" height="16.500" rx="3" fill="#8aa6cd" opacity=".55"/><text x="11.200" y="14.600" font-family="Liberation Sans,Arial,sans-serif" font-size="14.500" text-anchor="middle" fill="#fff" stroke="#fff" stroke-width=".35">9</text></svg></span></div>
<div class="sub" style="left:95.5px;top:306.5px">No Participants</div>
<div class="pill" style="right:26.7px;top:286.5px;padding:0 16px">+ 350</div>
<svg class="abs" style="left:28.400px;top:368.1px;fill:#4f8287" width="45" height="40"><use href="#i-trophy"/></svg>
<div class="t" style="left:95.5px;top:365.2px">Discord Level<span class="em" style="width:22.4px;margin-left:5.3px"><svg width="22.4" height="20.4" viewBox="0 0 22.4 20.4" style="bottom:-2.6px"><rect x=".3" y=".3" width="21.800" height="19.800" rx="3.800" fill="url(#kc)"/><rect x="1.500" y="1" width="19.400" height="16.500" rx="3" fill="#8aa6cd" opacity=".55"/><text x="11.200" y="14.600" font-family="Liberation Sans,Arial,sans-serif" font-size="14.500" text-anchor="middle" fill="#fff" stroke="#fff" stroke-width=".35">1</text></svg></span><span class="em" style="width:22.4px;margin-left:1.3px"><svg width="22.4" height="20.4" viewBox="0 0 22.4 20.4" style="bottom:-2.6px"><rect x=".3" y=".3" width="21.800" height="19.800" rx="3.800" fill="url(#kc)"/><rect x="1.500" y="1" width="19.400" height="16.500" rx="3" fill="#8aa6cd" opacity=".55"/><text x="11.200" y="14.600" font-family="Liberation Sans,Arial,sans-serif" font-size="14.500" text-anchor="middle" fill="#fff" stroke="#fff" stroke-width=".35">8</text></svg></span></div>
<div class="sub" style="left:95.5px;top:392.2px">1 Participation</div>
<div class="pill" style="right:26.7px;top:372.2px;padding:0 16px">+ 325</div><!--SUG_END-->
</div>

<!-- ROW 2 -->
<div class="card" id="c-my" style="left:34px;top:845.7px;width:551.3px;height:560.5px">
  <div class="ttl" style="left:26.5px;top:31px">My Contributions</div>
  <div class="see" style="right:27px;top:34px">See all</div>
  <!--MY_START--><div class="t" style="left:26.5px;top:82.2px">Current week</div>
<svg class="abs" style="left:0;top:0" width="551" height="420"><circle cx="275" cy="271.8" r="100.1" fill="none" stroke="#74d27b" stroke-width="33.6"/><path d="M222.53 167.04A116.9 116.9 0 0 1 275.00 154.60L275.00 188.20A83.3 83.3 0 0 0 237.61 197.06Z" fill="#f9e17d"/></svg>
<div class="t" style="left:175px;width:200px;text-align:center;top:239.9px">Total</div>
<div class="t teal" style="left:175px;width:200px;text-align:center;top:273px;font-size:24px;line-height:28px">108</div>
<div class="abs" style="left:26px;top:463.7px;width:40px;height:22.2px;border-radius:5px;background:#74d27b"></div>
<div class="t" style="left:78px;top:462px">Feedback &amp; Ideas <span class="em" style="width:17px;margin-left:1px"><svg width="17" height="23" style="bottom:-3.5px"><use href="#e-bulb"/></svg></span></div>
<div class="abs" style="left:26px;top:501.3px;width:40px;height:22.2px;border-radius:5px;background:#f9e17d"></div>
<div class="t" style="left:78px;top:499.6px">Community <span class="em" style="width:22px"><svg width="22" height="21.5" style="bottom:-2.4px"><use href="#e-surf"/></svg></span></div><!--MY_END-->
</div>
<div class="card" id="c-badges" style="left:611.3px;top:845.7px;width:1128.7px;height:267.3px">
  <div class="ttl" style="left:26.7px;top:31px">Badges</div>
  <!--BADGES_START--><svg class="abs" style="left:348.7px;top:84.3px" width="440" height="115" viewBox="960 930 440 115">
<defs><clipPath id="gc"><circle cx="1175.750" cy="989" r="41.500"/></clipPath></defs>
<!-- Erudite -->
<path d="M976.600 943.400C972.500 943.600 970.800 946 970.500 950L969.800 959.200H978.800Z" fill="#cf9a44"/>
<path d="M1055.400 943.400C1059.500 943.600 1061.200 946 1061.500 950L1062.200 959.200H1053.200Z" fill="#cf9a44"/>
<path d="M976.600 943.400H1055.400L1049.100 1015.900L1017.100 1034.900L983.600 1015.900Z" fill="#ebb155"/>
<g fill="#fff"><path d="M1016 965L1042 974.900L1016 986L990 974.900Z" stroke="#fff" stroke-width="1.200" stroke-linejoin="round"/>
<path d="M1001.300 982.500L1016 988.600L1031.300 982.500L1031.800 996.500C1029 1002.500 1004 1002.500 1000.700 996.500Z"/>
<path d="M992.500 976.500C994 980 994.500 984 994.300 988L997.800 1001.200L994.200 999.700L990.400 1000.300L992.500 988C992.600 984 992 980 990.600 976.500Z"/></g>
<path d="M1016 972.600L1001.600 978.200C999.500 979.200 998.500 981 998.300 984" stroke="#ebb155" stroke-width="1.300" fill="none" stroke-linecap="round"/>
<!-- Guru -->
<circle cx="1175.750" cy="989" r="41.500" fill="#ebb155"/>
<g clip-path="url(#gc)"><path d="M1196.500 956C1188 966 1190 980 1201 992C1209 1002 1211 1012 1204 1031H1225V950Z" fill="#dca54c"/></g>
<g fill="#fff"><circle cx="1162.600" cy="972.600" r="6.300"/><circle cx="1190.500" cy="972.600" r="6.300"/>
<path d="M1152 990.700C1152 984.500 1155.500 981.200 1159.500 981.200H1165.500C1167.500 981.200 1169 982 1170 983.200C1168.700 985.500 1168.700 988.500 1170.300 990.700Z"/>
<path d="M1200.700 990.700C1200.700 984.500 1197.200 981.200 1193.200 981.200H1187.200C1185.200 981.200 1183.700 982 1182.700 983.200C1184 985.500 1184 988.500 1182.400 990.700Z"/>
<circle cx="1176.300" cy="983.300" r="7.400" stroke="#ebb155" stroke-width="1.300"/>
<path d="M1161.500 1005.200C1161.500 997 1166 993 1172 993H1180.500C1186.500 993 1191 997 1191 1005.200Z"/></g>
<path d="M1127.100 1008.800C1140 1005.500 1160 1006.200 1180 1009.500C1198 1012.800 1212 1015 1224.900 1009.600L1220.200 1018.300L1226.100 1025.400C1212 1027.500 1195 1024 1178 1020.500C1160 1017 1142 1018 1127.900 1023L1131.100 1015.900Z" fill="#cf9a44"/>
<path d="M1150 1007.300C1160 1007 1170 1008 1180 1009.500C1190 1011.300 1200 1013.500 1208 1013.800C1200 1018 1190 1018.500 1178 1016C1168 1013.500 1158 1010 1150 1007.300Z" fill="#d9a349" opacity=".7"/>
<!-- Leader -->
<path d="M1335 938.900C1329.500 938.900 1327.500 943 1324.200 947.700C1321 952.500 1318 955.500 1313.900 957.900C1308 961.500 1303 964 1297.200 966.700V990.900C1297.200 997 1299 1001 1301 1004.500C1304 1010 1309 1015 1314.700 1020.200L1335 1038.800L1355.300 1020.200C1361 1015 1366 1010 1369 1004.500C1371 1001 1372.800 997 1372.800 990.900V966.700C1367 964 1362 961.500 1356.100 957.900C1352 955.500 1349 952.500 1345.800 947.700C1342.500 943 1340.500 938.900 1335 938.900Z" fill="#d26562"/>
<path d="M1289.900 1000.300H1296L1297.500 1004H1296.500V1015.800H1289.900L1294.200 1008.100Z" fill="#c26b69"/>
<path d="M1381.400 1000.300H1375.300L1373.800 1004H1374.800V1015.800H1381.400L1377.100 1008.100Z" fill="#c26b69"/>
<path d="M1297.500 1004H1374.300L1375.900 1020.500H1296Z" fill="#b04b48"/>
<circle cx="1335.400" cy="977.900" r="18.100" fill="#fff"/>
<path d="M1343.200 968.900L1338.800 982.500L1327.500 986.500L1331.100 973.300Z" fill="#d26562" stroke="#d26562" stroke-width="1.300" stroke-linejoin="round"/><circle cx="1335.400" cy="977.900" r="2.200" fill="#fff"/>
</svg>
<div class="t" style="left:304.700px;width:200px;text-align:center;top:207px">Erudite</div>
<div class="t" style="left:464.700px;width:200px;text-align:center;top:207px">Guru</div>
<div class="t" style="left:624.700px;width:200px;text-align:center;top:207px">Leader</div>
<!--BADGES_END-->
</div>
<div class="card" id="c-kudos" style="left:611.3px;top:1139px;width:551.4px;height:267.2px">
  <!--KUDOS_START--><svg class="abs" style="left:245.700px;top:77.700px;fill:#e87b79" width="60" height="80" viewBox="0 0 384 512"><path d="M97.120 362.630c-8.690-8.690-4.160-6.240-25.120-11.850-9.510-2.550-17.870-7.450-25.430-13.320L1.200 448.700c-4.390 10.770 3.810 22.470 15.430 22.030l52.690-2.010L105.560 507c8 8.440 22.040 5.810 26.430-4.960l52.050-127.620c-10.840 6.040-22.870 9.580-35.310 9.580-19.500 0-37.820-7.590-51.610-21.370zM382.800 448.700l-45.370-111.240c-7.560 5.880-15.920 10.770-25.430 13.320-21.070 5.640-16.450 3.180-25.120 11.850-13.790 13.780-32.120 21.370-51.620 21.370-12.440 0-24.470-3.550-35.310-9.580L252 502.040c4.390 10.770 18.440 13.400 26.430 4.960l36.250-38.280 52.690 2.010c11.620.44 19.820-11.270 15.430-22.030zM263 340c15.280-15.550 17.030-14.210 38.790-20.140 13.890-3.790 24.750-14.840 28.470-28.980 7.480-28.400 5.540-24.970 25.950-45.750 10.170-10.350 14.140-25.440 10.420-39.580-7.470-28.380-7.480-24.420 0-52.830 3.720-14.140-.25-29.230-10.420-39.580-20.410-20.780-18.470-17.360-25.950-45.750-3.720-14.140-14.580-25.190-28.470-28.980-27.880-7.610-24.520-5.620-44.950-26.410-10.170-10.350-25-14.400-38.890-10.610-27.870 7.600-23.980 7.610-51.900 0-13.890-3.790-28.720.25-38.890 10.610-20.410 20.780-17.050 18.800-44.940 26.410-13.890 3.790-24.750 14.840-28.470 28.980-7.470 28.390-5.540 24.970-25.950 45.750-10.170 10.350-14.150 25.440-10.420 39.580 7.470 28.360 7.480 24.400 0 52.820-3.720 14.140.25 29.230 10.420 39.590 20.410 20.780 18.470 17.350 25.950 45.750 3.720 14.140 14.580 25.190 28.470 28.980C104.600 325.960 106.270 325 121 340c13.230 13.470 33.840 15.880 49.740 5.820a39.676 39.676 0 0 1 42.530 0c15.890 10.060 36.500 7.640 49.730-5.820zM97.660 175.960c0-53.030 42.240-96.020 94.340-96.020s94.340 42.990 94.340 96.020-42.240 96.020-94.340 96.020-94.340-42.990-94.340-96.020z"/></svg>
<div class="t" style="left:0;width:551.400px;text-align:center;top:187.100px"><span class="b teal">Cheer</span> your peers with Kudos</div>
<!--KUDOS_END-->
</div>
<div class="card" id="c-rew" style="left:1188.7px;top:1139px;width:551.3px;height:267.2px">
  <div class="ttl" style="left:27.3px;top:31px">Rewards</div>
  <div class="see" style="right:27px;top:33px">See all</div>
  <!--REW_START--><div class="abs b" style="left:122.500px;top:117px;font-family:'DejaVu Sans Mono','DejaVu Sans Condensed','DejaVu Sans',monospace;font-size:43.500px;line-height:60px;color:#e87b79">Ɱ</div>
<div class="abs b" style="left:158.600px;top:128.800px;font-size:33px;line-height:40px">-</div>
<div class="t" style="left:27.300px;width:248.500px;text-align:center;top:185.300px;letter-spacing:.62px">No Reward Yet</div>
<div class="abs b" style="left:367.800px;top:117px;font-family:'DejaVu Sans Mono','DejaVu Sans Condensed','DejaVu Sans',monospace;font-size:43.500px;line-height:60px;color:#e87b79">Ɱ</div>
<div class="abs b" style="left:404.200px;top:128.800px;font-size:33px;line-height:40px">0</div>
<div class="t" style="left:275.800px;width:248.500px;text-align:center;top:185.300px;letter-spacing:.62px">Balance</div>
<!--REW_END-->
</div>

<!-- TABLE -->
<div class="card" id="c-table" style="left:34px;top:1432.8px;width:1706px;height:420px;border-radius:26px 26px 0 0">
  <!--TABLE_START--><svg class="abs" style="left:1262.0px;top:28.4px;fill:#6d6d6d" width="24.8" height="28"><use href="#i-cal"/></svg>
<div class="t" style="left:1295.5px;top:30.2px">Oct 1, 2024~Oct 16, 2024</div>
<div class="abs" style="left:1258.2px;top:65.5px;width:296.5px;height:1.1px;background:#8c8c8c"></div>
<div class="abs" style="left:1576.2px;top:17.6px;width:108.4px;height:49.2px;border:1px solid #e0e3e8;border-radius:5.5px"></div>
<svg class="abs" style="left:1589.0px;top:31.2px" width="24" height="22" viewBox="1623 1464 24 22"><g stroke="#6a6a6a" stroke-width="2" stroke-linecap="round" fill="none"><path d="M1624.500 1468.500H1645M1624.500 1475H1645M1624.500 1481.400H1645"/></g><g stroke="#6a6a6a" stroke-width="3" stroke-linecap="round"><path d="M1638.700 1466.400v4.200M1636.100 1472.900v4.200M1629.100 1479.300v4.200"/></g></svg>
<div class="t" style="left:1624.4px;top:30.2px">Filter</div>
<div class="ttl" style="left:37.1px;top:113.4px;color:#707070">Action</div>
<div class="ttl" style="left:572.5px;width:300px;text-align:center;top:113.4px;color:#707070">Program</div>
<div class="ttl" style="left:897.5px;width:300px;text-align:center;top:113.4px;color:#20282c">Date<span class="em" style="width:18px;margin-left:3px"><svg width="18" height="20" viewBox="0 0 18 20" style="bottom:-3px"><path d="M9 2v15M2.700 10.800L9 17.100L15.300 10.800" stroke="#20282c" stroke-width="1.900" fill="none"/></svg></span></div>
<div class="ttl" style="left:1170.5px;width:300px;text-align:center;top:113.4px;color:#707070">Points</div>
<div class="ttl" style="left:1397.7px;width:300px;text-align:center;top:113.4px;color:#707070">Status</div>
<div class="abs" style="left:15.7px;top:159.1px;width:1674.2px;height:1.1px;background:#dedede"></div>
<div class="abs" style="left:15.7px;top:224.0px;width:1674.2px;height:1.1px;background:#dedede"></div>
<div class="abs" style="left:559.3px;top:222.8px;width:326.7px;height:2.4px;background:#fff"></div>
<div class="abs" style="left:559.3px;top:223.0px;width:326.7px;height:1.1px;background:#dedede"></div>
<div class="abs" style="left:15.7px;top:288.0px;width:1674.2px;height:1.1px;background:#dedede"></div>
<div class="abs" style="left:559.3px;top:286.8px;width:326.7px;height:2.4px;background:#fff"></div>
<div class="abs" style="left:559.3px;top:287.0px;width:326.7px;height:1.1px;background:#dedede"></div>
<div class="abs" style="left:15.7px;top:351.8px;width:1674.2px;height:1.1px;background:#dedede"></div>
<div class="abs" style="left:559.3px;top:350.6px;width:326.7px;height:2.4px;background:#fff"></div>
<div class="abs" style="left:559.3px;top:350.8px;width:326.7px;height:1.1px;background:#dedede"></div>
<svg class="abs" style="left:37.0px;top:179.5px;fill:#4f8287" width="23.3" height="26.6"><use href="#i-user"/></svg>
<div class="t" style="left:70.7px;top:179.4px">Daily Connect <span class="em" style="width:22.8px;margin-left:1px"><svg width="22.8" height="24" style="bottom:-3.4px"><use href="#e-clock"/></svg></span></div>
<div class="t teal" style="left:522.5px;width:400px;text-align:center;top:179.4px">Community <span class="em" style="width:22px"><svg width="22" height="21.5" style="bottom:-2.4px"><use href="#e-surf"/></svg></span></div>
<div class="t" style="left:898.7px;width:300px;text-align:center;top:179.4px">Oct 16, 2024</div>
<div class="t" style="left:1220.5px;width:200px;text-align:center;top:179.4px">2</div>
<svg class="abs" style="left:1548.8px;top:181.5px;fill:#4ab08a" width="21.8" height="21.8"><use href="#i-check"/></svg>
<svg class="abs" style="left:37.0px;top:243.8px;fill:#4f8287" width="23.3" height="26.6"><use href="#i-user"/></svg>
<div class="t" style="left:70.7px;top:243.5px">Daily Connect <span class="em" style="width:22.8px;margin-left:1px"><svg width="22.8" height="24" style="bottom:-3.4px"><use href="#e-clock"/></svg></span></div>
<div class="t teal" style="left:522.5px;width:400px;text-align:center;top:243.5px">Community <span class="em" style="width:22px"><svg width="22" height="21.5" style="bottom:-2.4px"><use href="#e-surf"/></svg></span></div>
<div class="t" style="left:898.7px;width:300px;text-align:center;top:243.5px">Oct 15, 2024</div>
<div class="t" style="left:1220.5px;width:200px;text-align:center;top:243.5px">2</div>
<svg class="abs" style="left:1548.8px;top:245.8px;fill:#4ab08a" width="21.8" height="21.8"><use href="#i-check"/></svg>
<svg class="abs" style="left:37.0px;top:307.9px;fill:#20282c" width="25.8" height="25.2"><use href="#i-gh"/></svg>
<div class="t teal" style="left:73.3px;top:307.1px">Product feedback <span class="em" style="width:17px;margin-left:3px"><svg width="17" height="23" style="bottom:-3.5px"><use href="#e-bulb"/></svg></span></div>
<div class="t teal" style="left:521.3px;width:400px;text-align:center;top:307.1px">Feedback &amp; Ideas <span class="em" style="width:17px;margin-left:3px"><svg width="17" height="23" style="bottom:-3.5px"><use href="#e-bulb"/></svg></span></div>
<div class="t" style="left:898.7px;width:300px;text-align:center;top:307.1px">Oct 14, 2024</div>
<div class="t" style="left:1220.5px;width:200px;text-align:center;top:307.1px">100</div>
<svg class="abs" style="left:1548.8px;top:309.7px;fill:#e8832a" width="21.8" height="21.8"><use href="#i-quest"/></svg>
<svg class="abs" style="left:37.0px;top:371.7px;fill:#20282c" width="25.8" height="25.2"><use href="#i-gh"/></svg>
<div class="t teal" style="left:73.3px;top:370.9px">Product feedback <span class="em" style="width:17px;margin-left:3px"><svg width="17" height="23" style="bottom:-3.5px"><use href="#e-bulb"/></svg></span></div>
<div class="t teal" style="left:521.3px;width:400px;text-align:center;top:370.9px">Feedback &amp; Ideas <span class="em" style="width:17px;margin-left:3px"><svg width="17" height="23" style="bottom:-3.5px"><use href="#e-bulb"/></svg></span></div>
<div class="t" style="left:898.7px;width:300px;text-align:center;top:370.9px">Oct 14, 2024</div>
<div class="t" style="left:1220.5px;width:200px;text-align:center;top:370.9px">100</div>
<svg class="abs" style="left:1548.8px;top:373.5px;fill:#4ab08a" width="21.8" height="21.8"><use href="#i-check"/></svg><!--TABLE_END-->
</div>
</body>
</html>
